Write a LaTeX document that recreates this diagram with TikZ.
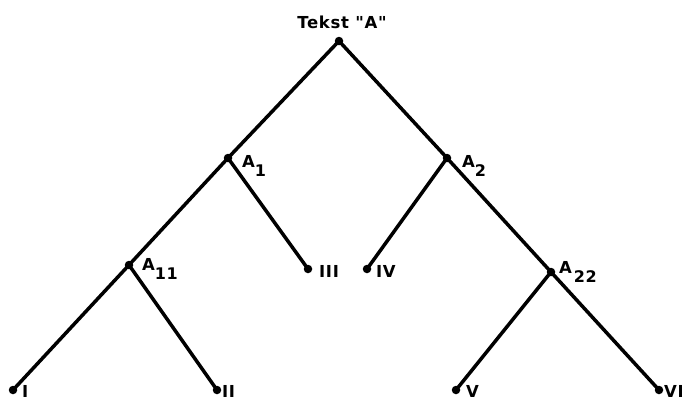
\documentclass[tikz,border=0pt]{standalone}
\usepackage{fontspec}
\setmainfont{DejaVu Sans}[Ligatures=TeXOff,LetterSpace=4]
\newcommand{\sbs}[1]{\raisebox{-9pt}{\fontsize{16}{18}\selectfont #1}}
\begin{document}
\begin{tikzpicture}[x=1pt,y=-1pt,
  branch/.style={line width=3.5pt,line cap=round},
  dot/.style={circle,fill=black,inner sep=0pt,minimum size=8.5pt},
  lbl/.style={anchor=base west,inner sep=0pt,font=\fontsize{16.5}{18}\selectfont\bfseries}]
\useasboundingbox (0,0) rectangle (682,400);
% vertices
\node[dot] (r)   at (339,41) {};
\node[dot] (a1)  at (228,158) {};
\node[dot] (a2)  at (447,158) {};
\node[dot] (a11) at (129,265) {};
\node[dot] (iii) at (308,269) {};
\node[dot] (iv)  at (367,269) {};
\node[dot] (a22) at (551,272) {};
\node[dot] (i)   at (13,390) {};
\node[dot] (ii)  at (217,390) {};
\node[dot] (v)   at (456,390) {};
\node[dot] (vi)  at (659,390) {};
% edges
\draw[branch] (r.center) -- (a1.center);
\draw[branch] (r.center) -- (a2.center);
\draw[branch] (a1.center) -- (a11.center);
\draw[branch] (a1.center) -- (iii.center);
\draw[branch] (a2.center) -- (iv.center);
\draw[branch] (a2.center) -- (a22.center);
\draw[branch] (a11.center) -- (i.center);
\draw[branch] (a11.center) -- (ii.center);
\draw[branch] (a22.center) -- (v.center);
\draw[branch] (a22.center) -- (vi.center);
% labels
\node[lbl,anchor=base] (lr) at (342,28) {Tekst "A"};
\node[lbl] (l1)  at (242,167) {A\sbs{1}};
\node[lbl] (l2)  at (462,167) {A\sbs{2}};
\node[lbl] (l11) at (142,270) {A\sbs{11}};
\node[lbl] (l22) at (559,273) {A\hspace{2pt}\sbs{22}};
\node[lbl] (liii) at (319,277) {III};
\node[lbl] (liv)  at (376,277) {IV};
\node[lbl] (li)   at (22,397) {I};
\node[lbl] (lii)  at (222,397) {II};
\node[lbl] (lv)   at (466,397) {V};
\node[lbl] (lvi)  at (664,397) {VI};
\end{tikzpicture}
\end{document}
